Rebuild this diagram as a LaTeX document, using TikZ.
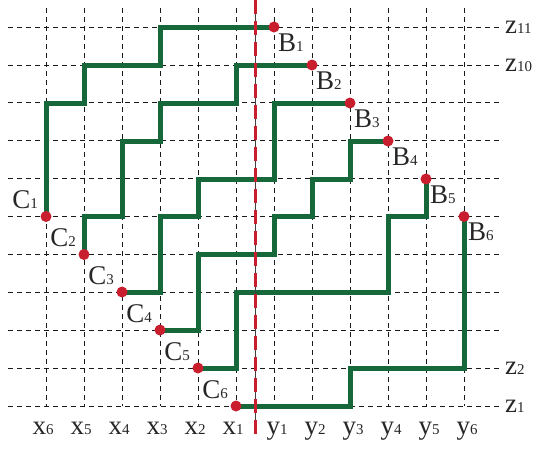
\documentclass[tikz,border=0pt]{standalone}
\usepackage{fontspec}
\setmainfont{Liberation Serif}
\usetikzlibrary{calc}
\definecolor{pathgreen}{RGB}{22,104,58}
\definecolor{dotred}{RGB}{200,30,45}
\newcommand\lsub[1]{{\fontsize{15}{15}\selectfont #1}}
\begin{document}
\begin{tikzpicture}[x=1pt,y=-1pt,
  gridline/.style={black!90, line width=0.8pt, dash pattern=on 5pt off 4pt},
  route/.style={pathgreen, line width=5pt, line join=miter},
  dot/.style={circle, fill=dotred, inner sep=0pt, minimum size=11pt},
  lbl/.style={font=\fontsize{27}{27}\selectfont, inner sep=0pt, text=black!85},
  axis/.style={dotred, line width=3pt, dash pattern=on 14pt off 7pt},
  axisthin/.style={black!75, line width=0.7pt}
  ]
\useasboundingbox (0,0) rectangle (534,448);
% grid
\foreach \i in {0,...,11} \draw[gridline] (46+38*\i,8) -- (46+38*\i,406);
\foreach \k in {0,...,10} \draw[gridline] (8,27+37.9*\k) -- (500,27+37.9*\k);
% end points
\coordinate (C1) at (46,216.5);
\coordinate (C2) at (84,254.5);
\coordinate (C3) at (122,292);
\coordinate (C4) at (160,330);
\coordinate (C5) at (198,368);
\coordinate (C6) at (236,406);
\coordinate (B1) at (274,27);
\coordinate (B2) at (312,65);
\coordinate (B3) at (350,103);
\coordinate (B4) at (388,141);
\coordinate (B5) at (426,179);
\coordinate (B6) at (464,216.5);
% routes
\draw[route] (C1) |- (84,103) |- (160,65) |- (B1);
\draw[route] (C2) |- (122,216.5) |- (160,141) |- (236,103) |- (B2);
\draw[route] (C3) -| (160,216.5) -| (198,179) -| (274,103) -- (B3);
\draw[route] (C4) -| (198,254.5) -| (274,216.5) -| (312,179) -| (350,141) -- (B4);
\draw[route] (C5) -| (236,292) -| (388,216.5) -| (B5);
\draw[route] (C6) -| (350,368) -| (B6);
% central axis
\coordinate (axtop) at (255,0);
\coordinate (axbot) at (255,434);
\draw[axisthin] (axtop) -- (axbot);
\draw[axis] (axtop) -- (axbot);
% dots
\foreach \p in {C1,C2,C3,C4,C5,C6,B1,B2,B3,B4,B5,B6}
  \node[dot] (d\p) at (\p) {};
% point labels
\foreach \i in {1,...,6} {
  \node[lbl, anchor=base east] (lc\i) at ($(C\i)+(-8,-8)$) {C\lsub{\i}};
  \node[lbl, anchor=base west] (lb\i) at ($(B\i)+(4,24)$) {B\lsub{\i}};
}
% row labels
\node[lbl, anchor=base west] (z11) at (505,33) {z\lsub{11}};
\node[lbl, anchor=base west] (z10) at (505,71) {z\lsub{10}};
\node[lbl, anchor=base west] (z2) at (505,374) {z\lsub{2}};
\node[lbl, anchor=base west] (z1) at (505,412) {z\lsub{1}};
% column labels
\foreach \i/\c in {6/46,5/84,4/122,3/160,2/198,1/236}
  \node[lbl, anchor=base] (lx\i) at (\c-3,434) {x\lsub{\i}};
\foreach \i/\c in {1/274,2/312,3/350,4/388,5/426,6/464}
  \node[lbl, anchor=base] (ly\i) at (\c+3,434) {y\lsub{\i}};
\end{tikzpicture}
\end{document}
